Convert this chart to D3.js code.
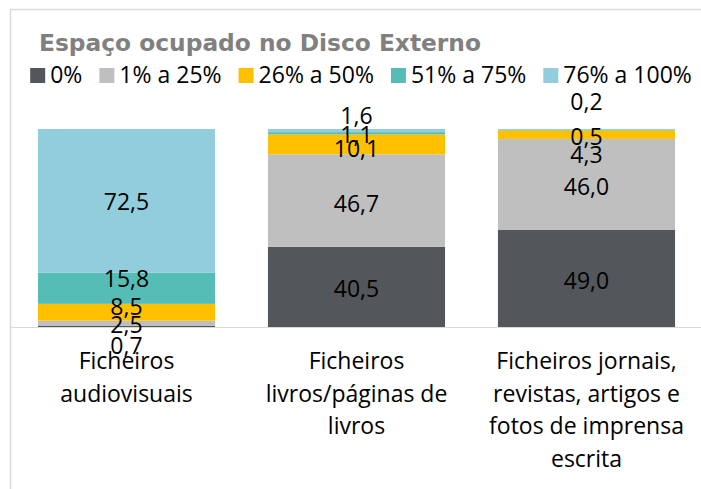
<!DOCTYPE html>
<html>
<head>
<meta charset="utf-8">
<script src="https://cdn.jsdelivr.net/npm/d3@7"></script>
<style>
  html, body { margin: 0; padding: 0; background: #fff; }
  svg { display: block; }
</style>
</head>
<body>
<div id="chart"></div>
<script>
// Espaço ocupado no Disco Externo - stacked 100% bars

const categories = [
    ["Ficheiros", "audiovisuais"],
    ["Ficheiros", "livros/páginas de", "livros"],
    ["Ficheiros jornais,", "revistas, artigos e", "fotos de imprensa", "escrita"]
];
const seriesNames = ["0%", "1% a 25%", "26% a 50%", "51% a 75%", "76% a 100%"];

// one array per series, same order as categories
const pct0 = [0.7, 40.5, 49.0];
const pct1to25 = [2.5, 46.7, 46.0];
const pct26to50 = [8.5, 10.1, 4.3];
const pct51to75 = [15.8, 1.1, 0.5];
const pct76to100 = [72.5, 1.6, 0.2];

const yTicks = [0, 100];

// layout stuff
const W = 701, H = 489;
const COLOURS = ["#53565A", "#BFBFBF", "#FFC000", "#55BDB5", "#92CDDC"];
const FONT = "'Open Sans', 'Noto Sans', sans-serif";
// labels were dragged by hand in the original, so nudge them (px, per category, per series)
const labelNudge = [
    [19, 2, -5.5, -9.7, 0.5],
    [1.7, 3.5, 4.6, 1, -14.7],
    [2, 2, 20, 6.7, -27]
];

const seriesValues = [pct0, pct1to25, pct26to50, pct51to75, pct76to100];
const rows = categories.map((c, i) => {
    const r = {key: i};
    seriesNames.forEach((s, j) => r[s] = seriesValues[j][i]);
    return r;
});

const svg = d3.select("#chart").append("svg")
    .attr("width", W)
    .attr("height", H);

// chart area border (runs off right/bottom edge)
svg.append("rect")
    .attr("x", 10.5).attr("y", 9.5)
    .attr("width", 720).attr("height", 520)
    .attr("fill", "none")
    .attr("stroke", "#d9d9d9")
    .attr("stroke-width", 1.5);

// title
svg.append("text")
    .attr("x", 39).attr("y", 51)
    .attr("textLength", 442)
    .attr("lengthAdjust", "spacingAndGlyphs")
    .style("font-family", "'DejaVu Sans', Lato, sans-serif")
    .style("font-weight", "bold")
    .style("font-size", "23px")
    .style("fill", "#808080")
    .text("Espaço ocupado no Disco Externo");

// legend
const legend = svg.append("g").attr("class", "legend");
const legendItems = legend.selectAll("g")
    .data(seriesNames)
    .enter()
    .append("g");
legendItems.append("rect")
    .attr("width", 15).attr("height", 15)
    .attr("y", 68)
    .attr("fill", (d, i) => COLOURS[i]);
legendItems.append("text")
    .attr("x", 20).attr("y", 83)
    .style("font-family", FONT)
    .style("font-size", "23px")
    .style("fill", "#000")
    .text(d => d);
// lay legend out left to right, centred
let lx = 0;
const gap = 17;
const widths = [];
legendItems.each(function () {
    widths.push(20 + d3.select(this).select("text").node().getComputedTextLength());
});
const totalW = d3.sum(widths) + gap * (widths.length - 1);
lx = 361 - totalW / 2;
legendItems.attr("transform", (d, i) => {
    const t = `translate(${lx},0)`;
    lx += widths[i] + gap;
    return t;
});

// scales
const x = d3.scaleBand()
    .domain(d3.range(categories.length))
    .range([11.5, 701.5])
    .paddingInner(0.23)
    .paddingOuter(0.115);
const y = d3.scaleLinear()
    .domain(d3.extent(yTicks))
    .range([327, 129]);

const stack = d3.stack().keys(seriesNames);
const stacked = stack(rows);

const layers = svg.append("g").selectAll("g")
    .data(stacked)
    .enter()
    .append("g")
    .attr("fill", (d, i) => COLOURS[i]);

layers.selectAll("rect")
    .data(d => d)
    .enter()
    .append("rect")
    .attr("x", d => x(d.data.key))
    .attr("width", x.bandwidth())
    .attr("y", d => y(d[1]))
    .attr("height", d => y(d[0]) - y(d[1]));

// axis line
svg.append("line")
    .attr("x1", 11).attr("x2", W)
    .attr("y1", y(0) + 0.5).attr("y2", y(0) + 0.5)
    .attr("stroke", "#d9d9d9")
    .attr("stroke-width", 1);

// data labels
const fmt = d3.formatLocale({decimal: ",", thousands: ".", grouping: [3], currency: ["", "€"]}).format(".1f");
stacked.forEach((layer, j) => {
    svg.append("g").selectAll("text")
        .data(layer)
        .enter()
        .append("text")
        .attr("x", d => x(d.data.key) + x.bandwidth() / 2)
        .attr("y", (d, i) => (y(d[0]) + y(d[1])) / 2 + labelNudge[i][j])
        .attr("dy", "0.36em")
        .attr("text-anchor", "middle")
        .style("font-family", FONT)
        .style("font-size", "23px")
        .style("fill", "#000")
        .text(d => fmt(d[1] - d[0]));
});

// category labels
const catG = svg.append("g").selectAll("text")
    .data(categories)
    .enter()
    .append("text")
    .attr("text-anchor", "middle")
    .style("font-family", FONT)
    .style("font-size", "23px")
    .style("fill", "#000")
    .attr("transform", (d, i) => `translate(${x(i) + x.bandwidth() / 2},369)`);
catG.selectAll("tspan")
    .data(d => d)
    .enter()
    .append("tspan")
    .attr("x", 0)
    .attr("y", (d, i) => i * 32.5)
    .text(d => d);
</script>
</body>
</html>
